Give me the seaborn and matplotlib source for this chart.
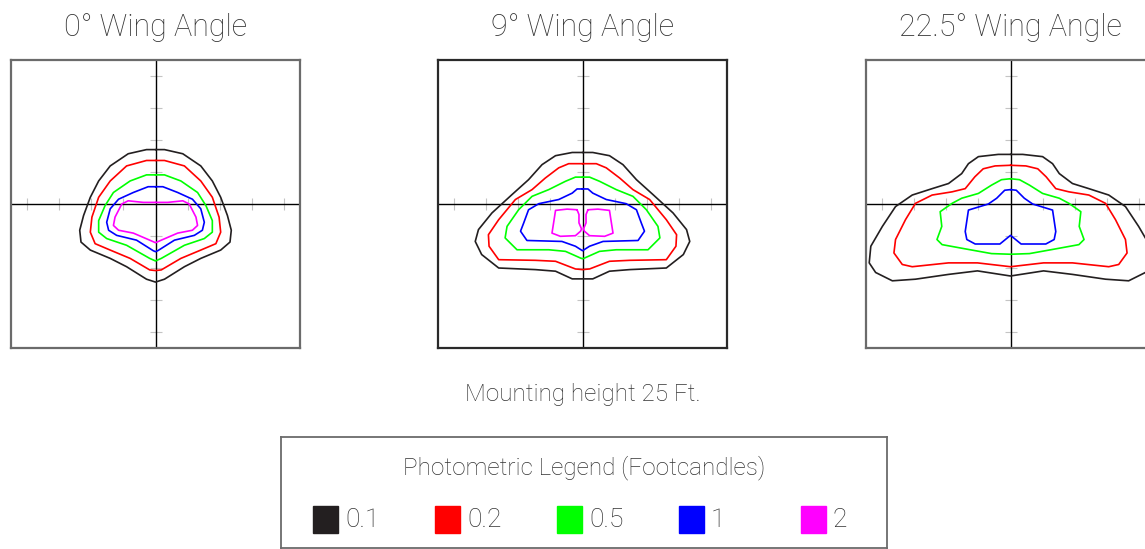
import pandas as pd
import matplotlib.pyplot as plt
import seaborn as sns
from matplotlib.patches import Rectangle

titles = ['0° Wing Angle', '9° Wing Angle', '22.5° Wing Angle']
levels = ['0.1', '0.2', '0.5', '1', '2']
colors = ['#231f20', '#ff0000', '#00ff00', '#0000ff', '#ff00ff']
tick_pos = [-4, -3, -2, -1, 1, 2, 3, 4]

# isolines, in mounting heights (x right, y up)
# right halves from top centre to bottom centre; mirrored for the left side
w0_01 = [(0, 1.70), (0.28, 1.70), (0.85, 1.57), (1.41, 1.19), (1.77, 0.72), (2.03, 0.21),
         (2.24, -0.36), (2.36, -0.82), (2.32, -1.19), (2.03, -1.44), (1.41, -1.70),
         (0.90, -1.96), (0.28, -2.35), (0, -2.44)]
w0_02 = [(0, 1.36), (0.28, 1.36), (0.90, 1.19), (1.41, 0.72), (1.77, 0.21), (1.98, -0.41),
         (2.03, -0.88), (1.88, -1.24), (1.41, -1.44), (0.79, -1.70), (0.18, -2.06), (0, -2.08)]
w0_05 = [(0, 0.91), (0.28, 0.91), (0.79, 0.72), (1.31, 0.36), (1.57, -0.05), (1.77, -0.52),
         (1.77, -0.88), (1.52, -1.08), (0.90, -1.29), (0.18, -1.70), (0, -1.78)]
w0_1 = [(0, 0.54), (0.23, 0.54), (0.69, 0.36), (1.15, 0.15), (1.41, -0.15), (1.52, -0.57),
        (1.46, -0.82), (1.21, -0.98), (0.59, -1.13), (0.07, -1.46), (0, -1.49)]
w0_2 = [(0, 0.05), (0.38, 0.05), (0.85, 0.10), (1.05, 0.0), (1.26, -0.41), (1.31, -0.67),
        (1.15, -0.82), (0.69, -0.91), (0.18, -1.13), (0, -1.21)]

w9_01 = [(0, 1.61), (0.32, 1.61), (0.84, 1.51), (1.26, 1.23), (1.68, 0.76), (2.20, 0.29),
         (2.82, -0.28), (3.24, -0.80), (3.34, -1.17), (3.14, -1.58), (2.61, -2.00),
         (1.47, -2.05), (0.84, -2.10), (0.32, -2.34), (0, -2.34)]
w9_02 = [(0, 1.26), (0.43, 1.26), (0.74, 1.13), (1.16, 0.81), (1.57, 0.45), (2.09, 0.14),
         (2.61, -0.49), (2.93, -0.96), (2.91, -1.32), (2.61, -1.74), (1.47, -1.76),
         (0.84, -1.79), (0.22, -2.03), (0, -2.05)]
w9_05 = [(0, 0.84), (0.22, 0.84), (0.53, 0.71), (1.05, 0.45), (1.57, 0.24), (1.99, -0.18),
         (2.35, -0.70), (2.41, -1.06), (2.04, -1.43), (1.05, -1.43), (0.53, -1.48),
         (0.06, -1.69), (0, -1.71)]
w9_1 = [(0, 0.47), (0.17, 0.47), (0.32, 0.34), (0.74, 0.14), (1.36, 0.01), (1.68, -0.18),
        (1.83, -0.59), (1.93, -0.85), (1.73, -1.14), (0.64, -1.17), (0.22, -1.32), (0, -1.46)]
# the 2 fc isoline at 9° is two closed blobs; this is the right one
w9_2 = [(0.17, -0.18), (0.48, -0.16), (0.84, -0.20), (0.90, -0.59), (0.95, -0.91),
        (0.69, -1.01), (0.22, -0.99), (0.06, -0.85), (0.03, -0.78), (0.11, -0.59),
        (0.11, -0.33), (0.17, -0.18)]

w22_01 = [(0, 1.55), (0.38, 1.55), (1.00, 1.48), (1.31, 1.26), (1.52, 0.95), (1.93, 0.64),
          (2.44, 0.48), (3.06, 0.28), (3.58, -0.08), (3.99, -0.70), (4.35, -1.32),
          (4.40, -1.84), (4.20, -2.14), (3.68, -2.40), (2.96, -2.35), (1.93, -2.20),
          (1.03, -2.09), (0, -2.25)]
w22_02 = [(0, 1.21), (0.48, 1.19), (0.85, 1.10), (1.11, 0.85), (1.41, 0.48), (1.82, 0.38),
          (2.44, 0.28), (2.96, 0.02), (3.27, -0.49), (3.58, -1.11), (3.63, -1.53),
          (3.37, -1.89), (3.06, -1.96), (1.93, -1.84), (1.03, -1.84), (0, -1.96)]
w22_05 = [(0, 0.79), (0.28, 0.76), (0.59, 0.59), (1.00, 0.33), (1.52, 0.18), (1.82, 0.02),
          (2.19, -0.24), (2.14, -0.70), (2.29, -1.11), (2.13, -1.27), (1.31, -1.42),
          (0.59, -1.55), (0, -1.57)]
w22_1 = [(0, 0.45), (0.18, 0.43), (0.43, 0.18), (0.69, 0.0), (1.31, -0.19), (1.41, -0.86),
         (1.36, -1.11), (1.10, -1.25), (0.33, -1.25), (0, -0.98)]

panels = [
    [('0.1', w0_01), ('0.2', w0_02), ('0.5', w0_05), ('1', w0_1), ('2', w0_2)],
    [('0.1', w9_01), ('0.2', w9_02), ('0.5', w9_05), ('1', w9_1)],
    [('0.1', w22_01), ('0.2', w22_02), ('0.5', w22_05), ('1', w22_1)],
]


def mirrored(half):
    loop = half + [(-x, y) for x, y in reversed(half)]
    return loop + [loop[0]]


rows = []
unit = 0
for p, curves in enumerate(panels):
    for lvl, half in curves:
        for i, (x, y) in enumerate(mirrored(half)):
            rows.append((p, lvl, unit, i, x, y))
        unit += 1
# the two 2 fc blobs at 9°
for side in (1, -1):
    for i, (x, y) in enumerate(w9_2):
        rows.append((1, '2', unit, i, side * x, y))
    unit += 1
df = pd.DataFrame(rows, columns=['panel', 'level', 'unit', 'order', 'x', 'y'])

sns.set_style('white')
plt.rcParams['font.family'] = ['Roboto', 'DejaVu Sans']
text_col = '#333333'

fig = plt.figure(figsize=(11.45, 5.49), dpi=100)
W, H = 1145, 549
lefts = [11, 438, 866]
box_cols = ['#6b6b6b', '#2a2a2a', '#6b6b6b']
palette = dict(zip(levels, colors))

for p in range(3):
    ax = fig.add_axes([lefts[p] / W, (H - 348) / H, 289 / W, 288 / H])
    ax.axhline(0, color='black', lw=1.0, zorder=1)
    ax.axvline(0, color='black', lw=1.0, zorder=1)
    ax.plot([0] * len(tick_pos), tick_pos, ls='none', marker='_', ms=9, mew=0.8, color='#c4c4c4', zorder=0)
    ax.plot(tick_pos, [0] * len(tick_pos), ls='none', marker='|', ms=9, mew=0.8, color='#c4c4c4', zorder=0)
    sub = df[df['panel'] == p]
    sns.lineplot(data=sub, x='x', y='y', hue='level', units='unit', estimator=None, sort=False,
                 palette=palette, legend=False, lw=1.2, ax=ax, zorder=2)
    ax.set_xlim(-4.5, 4.5)
    ax.set_ylim(-4.5, 4.5)
    ax.set_xticks([])
    ax.set_yticks([])
    ax.set_xlabel('')
    ax.set_ylabel('')
    for s in ax.spines.values():
        s.set_color(box_cols[p])
        s.set_linewidth(1.6)
    ax.set_title(titles[p], fontsize=22, color=text_col, pad=17, fontweight='light')

fig.text(583 / W, 1 - 394 / H, 'Mounting height 25 Ft.', ha='center', va='center',
         fontsize=17.5, color=text_col, fontweight='light')

# legend box
lax = fig.add_axes([281 / W, (H - 548) / H, 606 / W, 111 / H])
lax.set_xlim(0, 606)
lax.set_ylim(111, 0)
lax.set_xticks([])
lax.set_yticks([])
for s in lax.spines.values():
    s.set_color('#6b6b6b')
    s.set_linewidth(1.3)
lax.text(303, 31, 'Photometric Legend (Footcandles)', ha='center', va='center',
         fontsize=17.5, color=text_col, fontweight='light')
for i, (lvl, c) in enumerate(zip(levels, colors)):
    x0 = 32 + i * 122
    lax.add_patch(Rectangle((x0, 69), 25, 27, color=c))
    lax.text(x0 + 32, 83, lvl, ha='left', va='center', fontsize=19, color=text_col, fontweight='light')

fig.savefig('out.png', dpi=100)
